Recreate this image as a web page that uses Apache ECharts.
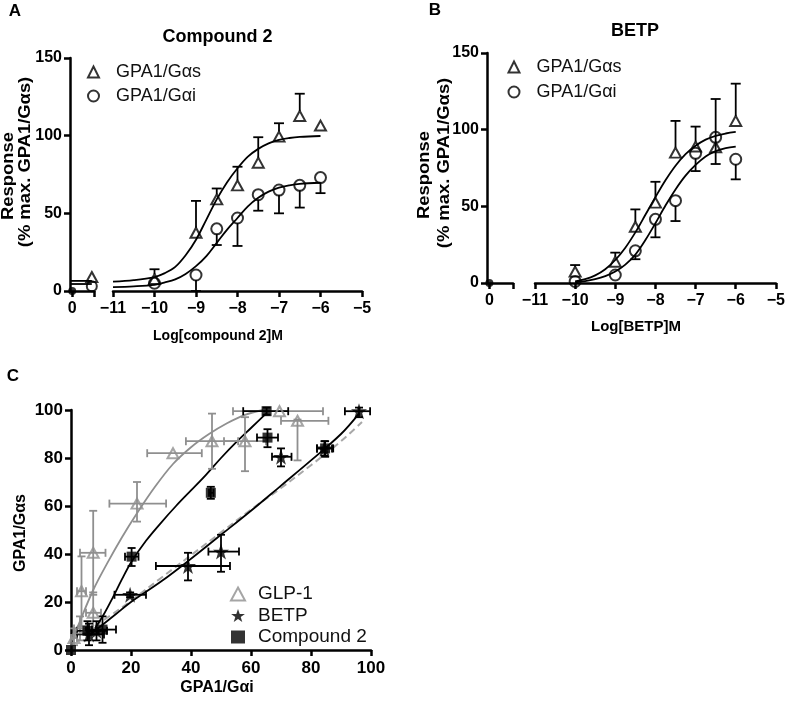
<!DOCTYPE html>
<html><head><meta charset="utf-8">
<script src="https://cdn.jsdelivr.net/npm/echarts@6/dist/echarts.min.js"></script>
<style>html,body{margin:0;padding:0;background:#fff}#c{width:788px;height:704px}</style>
</head><body><div id="c"></div>
<script>
// ---------- Panel A : Compound 2 ----------
const aXs      = [-10, -9, -8.5, -8, -7.5, -7, -6.5, -6];
const aGs      = [7.7, 37.5, 59, 68, 82.6, 99.4, 112.7, 106.5];
const aGsErr   = [14, 58, 66, 80, 99, 108, 127, null];
const aGi      = [5, 10.3, 40, 47, 62, 65, 68, 73];
const aGiErr   = [null, 0, 29.6, 29, 51.7, 50, 53.7, 63];
const aZeroGs  = 9, aZeroGi = 3;
const aZeroLineGs = 6.5, aZeroLineGi = 4.5;
const aCurveX  = [-11, -10.5, -10, -9.75, -9.5, -9.25, -9, -8.75, -8.5, -8.25, -8, -7.75, -7.5, -7.25, -7, -6.75, -6.5, -6];
const aGsCurve = [6, 7, 9, 11.5, 15.5, 23, 33, 46, 59, 70, 79, 86.5, 91.5, 95, 97.3, 98.5, 99.2, 99.8];
const aGiCurve = [2.5, 3, 4, 5.5, 7.5, 11, 16, 22.5, 31, 39.5, 47, 54.5, 60, 64, 66.5, 68, 69, 69.7];

// ---------- Panel B : BETP ----------
const bXs      = [-10, -9, -8.5, -8, -7.5, -7, -6.5, -6];
const bGs      = [7.4, 13.9, 36.7, 52.4, 85, 89, 88.5, 105.7];
const bGsErr   = [11.7, 19.8, 48, 66, 105.7, 102, 120, 130];
const bGi      = [1, 5.2, 21, 41.5, 53.7, 84.6, 95, 80.7];
const bGiErr   = [null, null, 15.5, 29.8, 40.4, 73, 77.6, 67.6];
const bCurveX  = [-10, -9.75, -9.5, -9.25, -9, -8.75, -8.5, -8.25, -8, -7.75, -7.5, -7.25, -7, -6.75, -6.5, -6.25, -6];
const bGsCurve = [1, 2.5, 5, 9, 15, 23, 33, 44.5, 56, 67, 76.5, 84, 89.5, 93.5, 96, 97.5, 98.5];
const bGiCurve = [0.5, 1.2, 2.5, 4.5, 7.5, 12, 18.5, 28, 39, 50.5, 61, 70, 77, 82.5, 86, 88, 89];

// ---------- Panel C : bias plot  [x, y, xlo, xhi, ylo, yhi] ----------
const cGlp = [
  [1, 5, 0, 2, 2, 9],
  [3, 9, 1, 5, 4, 14],
  [3.5, 24.5, 2, 5, 10, 39],
  [7.4, 15.5, 5, 10, 8, 24],
  [7.4, 40.5, 3, 11.5, 23, 58],
  [22, 61, 12.8, 31.7, 53.5, 70],
  [34, 82, 25.4, 43.6, 82, 82],
  [47, 87, 38.3, 55.7, 75.5, 98.5],
  [58, 87, 51, 65, 74.5, 97],
  [69.5, 99.5, 54, 84, 99.5, 99.5],
  [75.5, 95.5, 70, 85.8, 79, 96]
];
const cBetp = [
  [6, 6.5, 2, 11, 2, 11],
  [8.5, 8, 5, 12, 4, 12],
  [19.7, 23, 14.5, 25, 22, 24],
  [39, 35, 28.3, 53, 29, 40.5],
  [50, 41, 45.8, 56, 32.6, 48],
  [70, 80.5, 67, 73.5, 76.5, 84],
  [84.5, 84, 82, 87, 81, 87],
  [96, 99.5, 91.3, 99.7, 97, 101]
];
const cCmp = [
  [0, 0, 0, 0, 0, 0],
  [5.5, 8, 2, 9, 4, 12],
  [10.5, 8.5, 7, 15, 3, 14],
  [20.2, 38.9, 18, 22.5, 35, 42.5],
  [46.6, 65.5, 46, 47.5, 63, 68],
  [65.5, 88.5, 62, 69, 84.5, 92],
  [65.2, 99.5, 57.4, 72.4, 98, 101],
  [84.7, 84, 82, 87.4, 80.5, 87]
];
const cGlpCurve  = [[0.5,4],[3,12],[7.4,25],[12,36],[17,47],[22,57],[28,68],[34,77.5],[40,84.5],[46,90],[52,94.5],[58,98],[64,100]];
const cCmpCurve  = [[8,9],[11,15],[14,22],[17,29.5],[20,36.5],[25,45.5],[30,53],[35,60],[40,66.5],[45,73],[50,80],[55,86.5],[60,92.5],[65,98.5]];
const cBetpCurve = [[6,6],[10,10],[15,15],[20,20],[30,28.5],[40,38],[50,48],[60,58],[70,68.5],[80,79],[90,90],[96,98.5]];
const cDashCurve = [[8,10],[15,16],[20,20.5],[30,30],[40,39.5],[50,49],[60,58.5],[70,67.5],[80,77],[90,87],[97,95]];

const yTicksAB = [0, 50, 100, 150];
const xTicksMain = [-11, -10, -9, -8, -7, -6, -5];
const cTicks = [0, 20, 40, 60, 80, 100];

// ---------- styling ----------
const FONT = '"Liberation Sans", Arial, Helvetica, sans-serif';
const INK = '#000';
const GRAY = '#8f8f8f';
const STAR = 'path://M50,2 L61.8,36.2 L97.6,36.2 L68.6,57.4 L79.4,91.6 L50,70.4 L20.6,91.6 L31.4,57.4 L2.4,36.2 L38.2,36.2 Z';
const minusFmt = v => (v < 0 ? '\u2212' + Math.abs(v) : String(v));

function axisBase(fontSize, margin) {
  return {
    axisLine: { show: true, onZero: false, lineStyle: { color: INK, width: 2.5 } },
    axisTick: { show: true, length: 6, lineStyle: { color: INK, width: 2.5 } },
    splitLine: { show: false },
    axisLabel: { fontFamily: FONT, fontWeight: 'bold', fontSize: fontSize, color: INK, margin: margin, formatter: minusFmt }
  };
}

function vErr(color) {
  return function (params, api) {
    const x = api.value(0), y = api.value(1), e = api.value(2);
    const p0 = api.coord([x, y]), p1 = api.coord([x, e]);
    const dir = p1[1] < p0[1] ? -1 : 1;
    const st = { stroke: color, lineWidth: 1.8 };
    return { type: 'group', children: [
      { type: 'line', shape: { x1: p0[0], y1: p0[1] + dir * 5, x2: p1[0], y2: p1[1] }, style: st },
      { type: 'line', shape: { x1: p1[0] - 5, y1: p1[1], x2: p1[0] + 5, y2: p1[1] }, style: st }
    ]};
  };
}
function xyErr(color) {
  return function (params, api) {
    const x = api.value(0), y = api.value(1);
    const xlo = api.value(2), xhi = api.value(3), ylo = api.value(4), yhi = api.value(5);
    const st = { stroke: color, lineWidth: 1.8 };
    const ch = [];
    const c = 4;
    if (xhi > xlo) {
      const a = api.coord([xlo, y]), b = api.coord([xhi, y]);
      ch.push({ type: 'line', shape: { x1: a[0], y1: a[1], x2: b[0], y2: b[1] }, style: st });
      ch.push({ type: 'line', shape: { x1: a[0], y1: a[1] - c, x2: a[0], y2: a[1] + c }, style: st });
      ch.push({ type: 'line', shape: { x1: b[0], y1: b[1] - c, x2: b[0], y2: b[1] + c }, style: st });
    }
    if (yhi > ylo) {
      const a = api.coord([x, ylo]), b = api.coord([x, yhi]);
      ch.push({ type: 'line', shape: { x1: a[0], y1: a[1], x2: b[0], y2: b[1] }, style: st });
      ch.push({ type: 'line', shape: { x1: a[0] - c, y1: a[1], x2: a[0] + c, y2: a[1] }, style: st });
      ch.push({ type: 'line', shape: { x1: b[0] - c, y1: b[1], x2: b[0] + c, y2: b[1] }, style: st });
    }
    return { type: 'group', children: ch };
  };
}

const hollow = (c) => ({ color: 'rgba(0,0,0,0)', borderColor: c, borderWidth: 2 });
const zip = (xs, ys) => xs.map((x, i) => [x, ys[i]]);
const errData = (xs, ys, es) => xs.map((x, i) => [x, ys[i], es[i]]).filter(d => d[2] !== null && d[2] !== undefined);

function curve(name, xi, yi, data, color, dashed) {
  return { name: name, type: 'line', xAxisIndex: xi, yAxisIndex: yi, data: data, showSymbol: false, symbol: 'none',
    smooth: 0.35, lineStyle: { color: color, width: dashed ? 2 : 1.8, type: dashed ? [7, 4] : 'solid' }, z: 2, silent: true };
}
function scat(name, xi, yi, data, symbol, size, style) {
  return { name: name, type: 'scatter', xAxisIndex: xi, yAxisIndex: yi, data: data, symbol: symbol, symbolSize: size,
    itemStyle: style, z: 4, silent: true };
}
function errSeries(xi, yi, data, fn, enc) {
  return { type: 'custom', xAxisIndex: xi, yAxisIndex: yi, data: data, renderItem: fn, encode: enc, z: 3, silent: true };
}

const GS = 'GPA1/G\u03b1s', GI = 'GPA1/G\u03b1i';

const option = {
  animation: false,
  backgroundColor: '#fff',
  grid: [
    { left: 70, top: 58, width: 24, height: 233 },
    { left: 113, top: 58, width: 249, height: 233 },
    { left: 487, top: 53, width: 26, height: 230 },
    { left: 535, top: 53, width: 244, height: 230 },
    { left: 71, top: 410, width: 300, height: 240 }
  ],
  xAxis: [
    Object.assign(axisBase(16, 10), { gridIndex: 0, type: 'value', min: -0.1, max: 1,
      axisTick: { show: true, length: 6, customValues: [0, 1], lineStyle: { color: INK, width: 2.5 } },
      axisLabel: { fontFamily: FONT, fontWeight: 'bold', fontSize: 16, color: INK, margin: 10, customValues: [0] } }),
    Object.assign(axisBase(16, 10), { gridIndex: 1, type: 'value', min: xTicksMain[0], max: xTicksMain[xTicksMain.length - 1], interval: 1 }),
    Object.assign(axisBase(16, 10), { gridIndex: 2, type: 'value', min: -0.1, max: 1,
      axisTick: { show: true, length: 6, customValues: [0, 1], lineStyle: { color: INK, width: 2.5 } },
      axisLabel: { fontFamily: FONT, fontWeight: 'bold', fontSize: 16, color: INK, margin: 10, customValues: [0] } }),
    Object.assign(axisBase(16, 10), { gridIndex: 3, type: 'value', min: xTicksMain[0], max: xTicksMain[xTicksMain.length - 1], interval: 1 }),
    Object.assign(axisBase(17, 10), { gridIndex: 4, type: 'value', min: cTicks[0], max: cTicks[cTicks.length - 1], interval: 20 })
  ],
  yAxis: [
    Object.assign(axisBase(16, 8), { gridIndex: 0, type: 'value', min: yTicksAB[0], max: yTicksAB[3], interval: 50 }),
    { gridIndex: 1, type: 'value', min: 0, max: 150, show: false },
    Object.assign(axisBase(16, 8), { gridIndex: 2, type: 'value', min: yTicksAB[0], max: yTicksAB[3], interval: 50 }),
    { gridIndex: 3, type: 'value', min: 0, max: 150, show: false },
    Object.assign(axisBase(17, 8), { gridIndex: 4, type: 'value', min: cTicks[0], max: cTicks[cTicks.length - 1], interval: 20 })
  ],
  legend: [
    { data: [GS, GI], orient: 'vertical', left: 82, top: 57.5, itemWidth: 11, itemHeight: 11, itemGap: 5, selectedMode: false,
      textStyle: { fontFamily: FONT, fontSize: 18, color: '#111', lineHeight: 19, padding: [0, 0, 0, 12] } },
    { data: [GS, GI], orient: 'vertical', left: 502.5, top: 52.5, itemWidth: 11, itemHeight: 11, itemGap: 6, selectedMode: false,
      textStyle: { fontFamily: FONT, fontSize: 18, color: '#111', lineHeight: 19, padding: [0, 0, 0, 12] } },
    { data: ['GLP-1', 'BETP', 'Compound 2'], orient: 'vertical', left: 225, top: 579, itemWidth: 14, itemHeight: 13, itemGap: 1.5, selectedMode: false,
      textStyle: { fontFamily: FONT, fontSize: 19, color: '#111', lineHeight: 20, padding: [0, 0, 0, 8] } }
  ],
  series: [
    // ---- A ----
    curve('A Gs fit', 1, 1, zip(aCurveX, aGsCurve), INK),
    curve('A Gi fit', 1, 1, zip(aCurveX, aGiCurve), INK),
    errSeries(1, 1, errData(aXs, aGs, aGsErr), vErr(INK), { x: 0, y: [1, 2] }),
    errSeries(1, 1, errData(aXs, aGi, aGiErr), vErr(INK), { x: 0, y: [1, 2] }),
    scat(GS, 1, 1, zip(aXs, aGs), 'triangle', [11, 10], hollow(INK)),
    scat(GI, 1, 1, zip(aXs, aGi), 'circle', 11, hollow(INK)),
    curve('A0 Gs', 0, 0, [[-0.1, aZeroLineGs], [0.9, aZeroLineGs]], INK),
    curve('A0 Gi', 0, 0, [[-0.1, aZeroLineGi], [0.9, aZeroLineGi]], INK),
    scat('A0 tri', 0, 0, [[0.9, aZeroGs]], 'triangle', [11, 10], hollow(INK)),
    scat('A0 cir', 0, 0, [[0.9, aZeroGi]], 'circle', 10, hollow(INK)),
    scat('A0 base', 0, 0, [[0, 0]], 'circle', 8, { color: INK }),
    // ---- B ----
    curve('B Gs fit', 3, 3, zip(bCurveX, bGsCurve), INK),
    curve('B Gi fit', 3, 3, zip(bCurveX, bGiCurve), INK),
    errSeries(3, 3, errData(bXs, bGs, bGsErr), vErr(INK), { x: 0, y: [1, 2] }),
    errSeries(3, 3, errData(bXs, bGi, bGiErr), vErr(INK), { x: 0, y: [1, 2] }),
    scat(GS, 3, 3, zip(bXs, bGs), 'triangle', [11, 10], hollow(INK)),
    scat(GI, 3, 3, zip(bXs, bGi), 'circle', 11, hollow(INK)),
    scat('B0 base', 2, 2, [[0, 0]], 'circle', 8, { color: INK }),
    // ---- C ----
    curve('C dash', 4, 4, cDashCurve, '#a8a8a8', true),
    curve('C glp fit', 4, 4, cGlpCurve, GRAY),
    curve('C cmp fit', 4, 4, cCmpCurve, INK),
    curve('C betp fit', 4, 4, cBetpCurve, INK),
    errSeries(4, 4, cGlp, xyErr(GRAY), { x: [0, 2, 3], y: [1, 4, 5] }),
    errSeries(4, 4, cBetp, xyErr(INK), { x: [0, 2, 3], y: [1, 4, 5] }),
    errSeries(4, 4, cCmp, xyErr(INK), { x: [0, 2, 3], y: [1, 4, 5] }),
    scat('GLP-1', 4, 4, cGlp.map(d => [d[0], d[1]]), 'triangle', [11, 10], hollow(GRAY)),
    scat('BETP', 4, 4, cBetp.map(d => [d[0], d[1]]), STAR, 16, { color: INK }),
    scat('Compound 2', 4, 4, cCmp.map(d => [d[0], d[1]]), 'rect', 10, { color: INK })
  ],
  graphic: [
    { type: 'text', x: 15, y: 11, style: { text: 'A', font: 'bold 17px ' + FONT, fill: INK, align: 'center', verticalAlign: 'middle' } },
    { type: 'text', x: 435, y: 10, style: { text: 'B', font: 'bold 17px ' + FONT, fill: INK, align: 'center', verticalAlign: 'middle' } },
    { type: 'text', x: 13, y: 376, style: { text: 'C', font: 'bold 17px ' + FONT, fill: INK, align: 'center', verticalAlign: 'middle' } },
    { type: 'text', x: 217.5, y: 37.5, style: { text: 'Compound 2', font: 'bold 18px ' + FONT, fill: INK, align: 'center', verticalAlign: 'middle' } },
    { type: 'text', x: 635, y: 31, style: { text: 'BETP', font: 'bold 18px ' + FONT, fill: INK, align: 'center', verticalAlign: 'middle' } },
    { type: 'text', x: 218, y: 336, style: { text: 'Log[compound 2]M', font: 'bold 14px ' + FONT, fill: INK, align: 'center', verticalAlign: 'middle' } },
    { type: 'text', x: 636, y: 327, style: { text: 'Log[BETP]M', font: 'bold 15px ' + FONT, fill: INK, align: 'center', verticalAlign: 'middle' } },
    { type: 'text', x: 217, y: 688, style: { text: 'GPA1/G\u03b1i', font: 'bold 16px ' + FONT, fill: INK, align: 'center', verticalAlign: 'middle' } },
    { type: 'text', x: 21, y: 533, rotation: Math.PI / 2, style: { text: 'GPA1/G\u03b1s', font: 'bold 16px ' + FONT, fill: INK, align: 'center', verticalAlign: 'middle' } },
    { type: 'text', x: 9, y: 176, rotation: Math.PI / 2, scaleX: 1.15, style: { text: 'Response', font: 'bold 16px ' + FONT, fill: INK, align: 'center', verticalAlign: 'middle' } },
    { type: 'text', x: 25.5, y: 162, rotation: Math.PI / 2, scaleX: 1.15, style: { text: '(% max. GPA1/G\u03b1s)', font: 'bold 16px ' + FONT, fill: INK, align: 'center', verticalAlign: 'middle' } },
    { type: 'text', x: 425, y: 175, rotation: Math.PI / 2, scaleX: 1.15, style: { text: 'Response', font: 'bold 16px ' + FONT, fill: INK, align: 'center', verticalAlign: 'middle' } },
    { type: 'text', x: 444.5, y: 163, rotation: Math.PI / 2, scaleX: 1.15, style: { text: '(% max. GPA1/G\u03b1s)', font: 'bold 16px ' + FONT, fill: INK, align: 'center', verticalAlign: 'middle' } }
  ]
};

const chart = echarts.init(document.getElementById('c'), null, { renderer: 'canvas' });
chart.setOption(option);
</script></body></html>
